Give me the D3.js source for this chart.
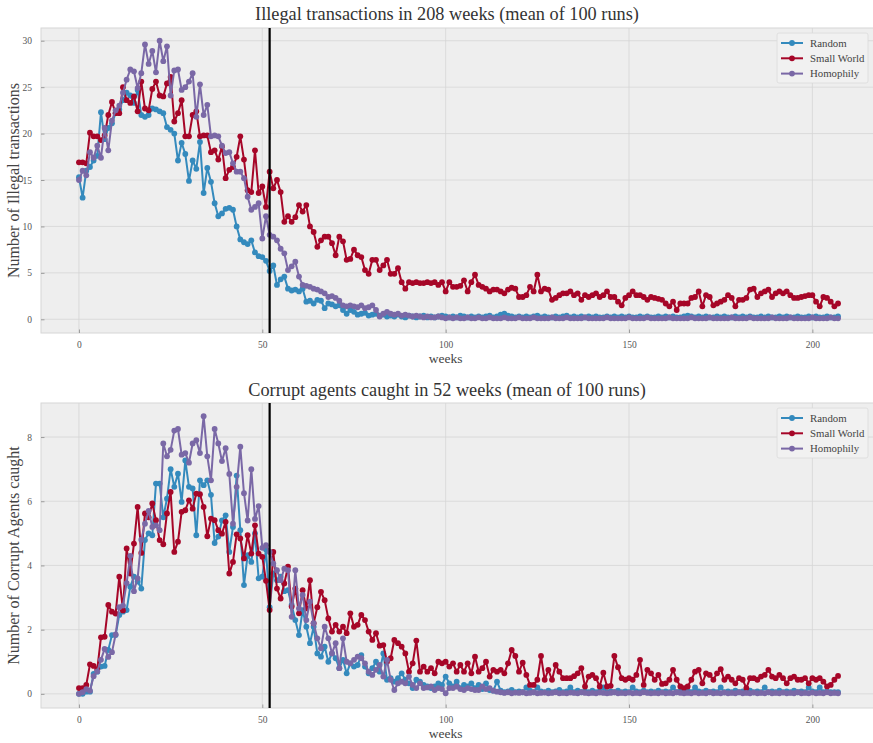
<!DOCTYPE html>
<html>
<head>
<meta charset="utf-8">
<script src="https://cdn.jsdelivr.net/npm/d3@7"></script>
<style>
  html, body { margin: 0; padding: 0; background: #ffffff; }
  svg { display: block; font-family: "Liberation Serif", "DejaVu Serif", serif; }
</style>
</head>
<body>
<svg id="chart" width="873" height="743"></svg>
<script>
// ---- data -------------------------------------------------------------
const weeks = d3.range(0, 208);
const seriesNames = ["Random", "Small World", "Homophily"];
const seriesColors = ["#348ABD", "#A60628", "#7A68A6"];
const xTicks = [0, 50, 100, 150, 200];
const topTicks = [0, 5, 10, 15, 20, 25, 30];
const bottomTicks = [0, 2, 4, 6, 8];
const markerWeek = 52;

const illegalRandom = [
  15.3, 13.1, 16.0, 16.4, 17.1, 17.6, 22.3, 19.4, 20.6, 21.1,
  22.2, 22.6, 23.6, 24.4, 24.1, 23.3, 24.7, 22.0, 21.8, 22.0,
  22.7, 22.6, 22.4, 22.2, 20.7, 20.4, 20.0, 17.1, 19.0, 17.8,
  14.9, 17.1, 16.2, 19.1, 13.6, 16.3, 14.8, 12.5, 11.1, 11.4,
  11.9, 12.0, 11.8, 10.0, 8.6, 8.3, 8.1, 8.5, 7.2, 6.8,
  6.7, 6.3, 5.2, 5.8, 3.7, 4.3, 4.6, 3.3, 3.1, 3.2,
  3.0, 3.3, 1.9, 2.0, 1.7, 2.1, 2.0, 1.2, 1.7, 1.6,
  1.4, 1.5, 1.0, 0.6, 1.0, 0.8, 0.5, 0.6, 0.7, 0.4,
  0.5, 0.6, 0.4, 0.5, 0.3, 0.4, 0.3, 0.5, 0.3, 0.2,
  0.4, 0.3, 0.2, 0.3, 0.4, 0.2, 0.3, 0.2, 0.3, 0.4,
  0.3, 0.2, 0.3, 0.2, 0.4, 0.3, 0.2, 0.3, 0.2, 0.3,
  0.2, 0.3, 0.4, 0.2, 0.3, 0.5, 0.6, 0.4, 0.3, 0.2,
  0.3, 0.2, 0.3, 0.2, 0.3, 0.4, 0.2, 0.3, 0.2, 0.2,
  0.3, 0.2, 0.3, 0.4, 0.2, 0.3, 0.2, 0.3, 0.2, 0.3,
  0.2, 0.3, 0.2, 0.2, 0.3, 0.2, 0.3, 0.2, 0.3, 0.2,
  0.3, 0.2, 0.2, 0.3, 0.2, 0.3, 0.2, 0.2, 0.3, 0.2,
  0.3, 0.2, 0.3, 0.2, 0.2, 0.3, 0.4, 0.3, 0.2, 0.3,
  0.2, 0.3, 0.2, 0.2, 0.3, 0.2, 0.3, 0.2, 0.2, 0.3,
  0.2, 0.3, 0.2, 0.3, 0.2, 0.2, 0.3, 0.2, 0.3, 0.2,
  0.2, 0.3, 0.2, 0.3, 0.2, 0.2, 0.3, 0.2, 0.2, 0.3,
  0.2, 0.3, 0.2, 0.2, 0.3, 0.2, 0.2, 0.3
];
const illegalSmallWorld = [
  16.9, 16.9, 16.8, 20.1, 19.7, 19.7, 19.3, 19.8, 22.0, 23.4,
  22.2, 22.2, 25.0, 23.6, 23.3, 24.0, 22.4, 25.6, 22.7, 22.5,
  24.8, 25.6, 24.1, 24.0, 25.4, 26.1, 21.3, 22.2, 23.6, 19.7,
  19.7, 22.0, 22.4, 19.7, 19.8, 19.8, 18.0, 18.2, 17.2, 18.6,
  15.2, 16.1, 16.4, 17.5, 19.7, 17.2, 13.9, 13.7, 18.2, 13.6,
  14.3, 12.1, 15.9, 14.1, 15.0, 13.7, 10.5, 11.1, 10.5, 11.0,
  12.3, 11.6, 12.3, 10.0, 9.4, 7.8, 8.5, 8.9, 8.9, 8.2,
  6.9, 8.9, 8.4, 6.4, 6.5, 7.5, 6.9, 6.7, 5.3, 4.9,
  6.4, 6.4, 5.3, 5.8, 6.4, 4.9, 4.9, 5.5, 4.0, 3.3,
  4.0, 3.9, 4.0, 3.9, 3.9, 4.0, 3.9, 4.0, 3.7, 4.0,
  3.0, 4.0, 3.5, 3.5, 3.6, 4.2, 3.0, 4.0, 4.8, 3.7,
  3.5, 3.3, 3.0, 3.2, 3.2, 3.0, 2.8, 3.2, 3.4, 3.3,
  2.4, 2.4, 2.6, 3.5, 3.0, 4.8, 3.0, 3.3, 3.2, 2.1,
  2.3, 2.6, 2.8, 2.8, 3.0, 2.6, 2.8, 2.1, 2.6, 2.4,
  2.6, 2.8, 2.4, 2.6, 3.0, 2.4, 2.4, 1.9, 1.5, 2.3,
  2.6, 3.0, 2.6, 2.6, 2.4, 2.1, 2.4, 2.3, 2.2, 2.1,
  1.7, 1.4, 1.9, 1.0, 1.7, 1.7, 1.7, 2.3, 2.4, 3.0,
  1.4, 2.6, 2.4, 1.5, 1.7, 1.9, 2.1, 2.6, 2.3, 1.4,
  2.1, 2.1, 2.3, 3.2, 3.3, 2.4, 2.8, 3.0, 3.2, 2.4,
  2.8, 3.0, 2.8, 3.0, 2.6, 2.3, 2.3, 2.4, 2.5, 2.6,
  2.6, 1.9, 1.4, 2.4, 2.3, 1.9, 1.4, 1.7
];
const illegalHomophily = [
  15.0, 16.0, 15.5, 18.0, 17.4, 18.7, 17.4, 20.6, 18.2, 21.4,
  22.5, 23.0, 24.4, 25.8, 26.9, 26.7, 24.9, 26.5, 29.6, 27.5,
  28.9, 26.6, 30.0, 27.8, 29.4, 24.1, 26.8, 26.9, 24.7, 25.0,
  25.6, 26.5, 21.8, 25.3, 22.0, 23.1, 19.7, 19.8, 19.7, 18.7,
  17.9, 18.0, 16.8, 15.9, 15.9, 15.2, 13.2, 11.8, 12.1, 12.5,
  8.7, 11.1, 9.1, 8.9, 8.5, 7.6, 7.1, 5.3, 5.7, 6.2,
  4.6, 3.7, 3.6, 3.5, 3.3, 3.2, 3.0, 2.8, 2.4, 2.5,
  2.3, 2.0, 1.5, 1.4, 1.5, 1.4, 1.3, 1.5, 1.2, 1.3,
  1.5, 1.0, 0.3, 0.6, 0.8, 0.6, 0.5, 0.6, 0.4, 0.5,
  0.4, 0.3, 0.4, 0.3, 0.2, 0.3, 0.2, 0.2, 0.3, 0.2,
  0.1, 0.2, 0.1, 0.2, 0.1, 0.1, 0.2, 0.1, 0.1, 0.2,
  0.1, 0.1, 0.2, 0.1, 0.1, 0.1, 0.2, 0.1, 0.1, 0.1,
  0.2, 0.1, 0.1, 0.1, 0.2, 0.1, 0.1, 0.1, 0.1, 0.2,
  0.1, 0.1, 0.1, 0.2, 0.1, 0.1, 0.1, 0.1, 0.2, 0.1,
  0.1, 0.1, 0.1, 0.1, 0.2, 0.1, 0.1, 0.1, 0.1, 0.1,
  0.2, 0.1, 0.1, 0.1, 0.1, 0.2, 0.1, 0.1, 0.1, 0.1,
  0.1, 0.2, 0.1, 0.1, 0.1, 0.1, 0.1, 0.2, 0.1, 0.1,
  0.1, 0.1, 0.2, 0.1, 0.1, 0.1, 0.1, 0.1, 0.2, 0.1,
  0.1, 0.1, 0.1, 0.2, 0.1, 0.1, 0.1, 0.1, 0.1, 0.2,
  0.1, 0.1, 0.1, 0.1, 0.2, 0.1, 0.1, 0.1, 0.1, 0.1,
  0.2, 0.1, 0.1, 0.1, 0.1, 0.2, 0.1, 0.1
];

const caughtRandom = [
  0.0, 0.0, 0.07, 0.07, 0.62, 0.69, 0.85, 0.87, 1.37, 1.83,
  1.83, 2.46, 2.56, 2.61, 3.34, 3.65, 3.5, 3.28, 4.79, 5.0,
  4.94, 6.55, 6.55, 5.5, 6.08, 7.0, 6.45, 6.86, 5.98, 7.27,
  6.45, 6.4, 4.94, 6.65, 6.5, 6.65, 6.2, 4.7, 4.9, 5.4,
  5.56, 4.42, 5.2, 6.8, 5.1, 3.39, 4.32, 4.11, 5.0, 3.6,
  3.65, 4.5, 2.7, 3.75, 3.54, 3.65, 3.2, 3.23, 2.77, 2.3,
  1.83, 2.61, 2.09, 1.58, 2.09, 1.26, 1.16, 1.47, 1.0, 1.26,
  1.11, 0.8, 1.06, 0.64, 0.95, 0.85, 0.9, 1.21, 0.85, 0.64,
  0.8, 1.0, 0.69, 1.26, 0.44, 0.49, 0.38, 0.49, 0.64, 0.44,
  0.33, 0.18, 0.44, 0.38, 0.28, 0.23, 0.18, 0.23, 0.33, 0.28,
  0.54, 0.33, 0.23, 0.38, 0.18, 0.28, 0.23, 0.33, 0.18, 0.28,
  0.15, 0.33, 0.12, 0.1, 0.38, 0.1, 0.05, 0.08, 0.12, 0.05,
  0.08, 0.05, 0.2, 0.1, 0.05, 0.2, 0.08, 0.05, 0.1, 0.05,
  0.08, 0.12, 0.05, 0.08, 0.2, 0.05, 0.1, 0.05, 0.08, 0.05,
  0.1, 0.05, 0.08, 0.2, 0.05, 0.08, 0.05, 0.1, 0.05, 0.08,
  0.05, 0.2, 0.08, 0.05, 0.1, 0.05, 0.08, 0.05, 0.1, 0.05,
  0.08, 0.05, 0.2, 0.05, 0.08, 0.05, 0.1, 0.05, 0.2, 0.08,
  0.05, 0.1, 0.05, 0.08, 0.05, 0.2, 0.05, 0.08, 0.05, 0.1,
  0.05, 0.08, 0.05, 0.1, 0.05, 0.08, 0.05, 0.2, 0.05, 0.08,
  0.05, 0.1, 0.05, 0.08, 0.05, 0.1, 0.05, 0.08, 0.05, 0.2,
  0.08, 0.05, 0.2, 0.05, 0.08, 0.05, 0.05, 0.05
];
const caughtSmallWorld = [
  0.18, 0.18, 0.28, 0.92, 0.87, 0.77, 1.76, 1.78, 2.77, 2.56,
  2.5, 3.65, 2.6, 4.53, 3.75, 4.68, 5.82, 4.39, 5.62, 5.5,
  5.93, 5.41, 4.79, 4.66, 5.62, 6.29, 4.42, 4.74, 5.67, 5.72,
  6.03, 5.77, 6.24, 6.22, 5.82, 4.91, 5.46, 5.41, 5.1, 4.99,
  5.36, 3.75, 4.11, 4.97, 4.84, 4.22, 4.94, 4.37, 5.25, 4.37,
  4.27, 3.52, 2.61, 4.42, 3.28, 2.97, 3.44, 3.96, 2.72, 3.28,
  2.51, 3.23, 2.66, 3.54, 2.2, 2.7, 3.18, 2.92, 2.35, 1.94,
  2.15, 1.94, 2.09, 1.89, 2.51, 2.09, 2.15, 2.46, 2.3, 1.94,
  1.68, 1.89, 1.5, 1.52, 1.0, 1.11, 1.68, 1.58, 1.47, 1.26,
  0.69, 0.95, 1.66, 0.69, 0.85, 0.69, 0.8, 0.64, 1.0, 0.95,
  1.0, 0.85, 0.95, 0.69, 0.9, 0.69, 0.95, 0.64, 1.16, 0.69,
  0.8, 1.0, 0.54, 0.75, 0.69, 0.75, 0.64, 0.95, 1.37, 1.18,
  0.69, 0.97, 0.59, 0.28, 0.28, 0.44, 1.18, 0.44, 0.75, 0.44,
  0.9, 0.69, 0.49, 0.49, 0.49, 0.55, 0.64, 0.8, 0.23, 0.54,
  0.59, 0.49, 0.23, 0.66, 0.23, 0.25, 1.18, 0.83, 0.49, 0.44,
  0.49, 0.44, 0.59, 1.06, 0.28, 0.75, 0.64, 0.44, 0.59, 0.31,
  0.33, 0.44, 0.75, 0.44, 0.23, 0.18, 0.23, 0.44, 0.69, 0.75,
  0.33, 0.64, 0.59, 0.44, 0.64, 0.77, 0.44, 0.54, 0.44, 0.33,
  0.49, 0.44, 0.18, 0.49, 0.49, 0.44, 0.54, 0.59, 0.75, 0.54,
  0.49, 0.59, 0.49, 0.33, 0.49, 0.54, 0.44, 0.44, 0.49, 0.33,
  0.49, 0.44, 0.49, 0.38, 0.23, 0.28, 0.44, 0.56
];
const caughtHomophily = [
  0.0, 0.05, 0.15, 0.1, 0.55, 0.7, 1.06, 1.4, 1.15, 1.3,
  1.85, 2.7, 2.75, 3.45, 4.3, 3.2, 3.6, 4.8, 5.3, 5.7,
  5.2, 5.25, 5.1, 7.8, 7.4, 7.6, 8.2, 8.25, 7.45, 7.5,
  7.2, 7.8, 7.9, 7.5, 8.65, 7.4, 6.65, 8.25, 7.8, 7.25,
  7.65, 6.85, 5.3, 6.45, 7.7, 6.25, 5.4, 7.0, 5.45, 5.85,
  4.55, 4.63, 4.42, 4.06, 3.85, 3.54, 3.9, 3.85, 2.4, 3.85,
  2.66, 3.08, 2.3, 2.87, 2.2, 1.73, 1.42, 2.09, 1.73, 1.26,
  1.58, 0.8, 1.73, 1.0, 0.95, 1.06, 1.16, 1.11, 0.95, 0.69,
  0.59, 0.75, 0.9, 0.54, 1.06, 0.44, 0.12, 0.33, 0.38, 0.33,
  0.54, 0.28, 0.18, 0.33, 0.18, 0.2, 0.23, 0.12, 0.18, 0.15,
  0.02, 0.18, 0.18, 0.23, 0.15, 0.12, 0.18, 0.15, 0.12, 0.12,
  0.23, 0.15, 0.18, 0.1, 0.07, 0.05, 0.03, 0.05, 0.02, 0.04,
  0.03, 0.05, 0.02, 0.03, 0.05, 0.02, 0.03, 0.04, 0.02, 0.03,
  0.05, 0.02, 0.03, 0.02, 0.04, 0.03, 0.02, 0.05, 0.03, 0.02,
  0.03, 0.02, 0.04, 0.03, 0.02, 0.03, 0.05, 0.02, 0.03, 0.02,
  0.04, 0.02, 0.03, 0.02, 0.05, 0.03, 0.02, 0.03, 0.02, 0.04,
  0.02, 0.03, 0.02, 0.05, 0.03, 0.02, 0.03, 0.02, 0.04, 0.02,
  0.03, 0.02, 0.05, 0.02, 0.03, 0.02, 0.04, 0.02, 0.03, 0.02,
  0.05, 0.02, 0.03, 0.02, 0.04, 0.02, 0.03, 0.02, 0.05, 0.02,
  0.03, 0.02, 0.04, 0.02, 0.03, 0.02, 0.05, 0.02, 0.03, 0.02,
  0.04, 0.02, 0.03, 0.02, 0.05, 0.02, 0.03, 0.02
];

// ---- layout -----------------------------------------------------------
const svg = d3.select("#chart");
const plotLeft = 41, plotRight = 876;
const x = d3.scaleLinear().domain([-10.35, 217.35]).range([plotLeft, plotRight]);

const panels = [
  {
    id: "illegal",
    title: "Illegal transactions in 208 weeks (mean of 100 runs)",
    ylabel: "Number of Illegal transactions",
    series: [illegalRandom, illegalSmallWorld, illegalHomophily],
    yTicks: topTicks,
    yDomain: [-1.475, 31.37],
    top: 28, bottom: 333, titleY: 20
  },
  {
    id: "caught",
    title: "Corrupt agents caught in 52 weeks (mean of 100 runs)",
    ylabel: "Number of Corrupt Agents caught",
    series: [caughtRandom, caughtSmallWorld, caughtHomophily],
    yTicks: bottomTicks,
    yDomain: [-0.44, 9.06],
    top: 403, bottom: 708, titleY: 396
  }
];

panels.forEach(p => {
  const y = d3.scaleLinear().domain(p.yDomain).range([p.bottom, p.top]);
  const g = svg.append("g");

  // axes background
  g.append("rect")
    .attr("x", plotLeft).attr("y", p.top)
    .attr("width", plotRight - plotLeft).attr("height", p.bottom - p.top)
    .attr("fill", "#eeeeee").attr("stroke", "#d6d6d6").attr("stroke-width", 1);

  // grid
  g.append("g").selectAll("line").data(xTicks).join("line")
    .attr("x1", d => x(d)).attr("x2", d => x(d))
    .attr("y1", p.top).attr("y2", p.bottom)
    .attr("stroke", "#d6d6d6").attr("stroke-width", 0.8);
  g.append("g").selectAll("line").data(p.yTicks).join("line")
    .attr("x1", plotLeft).attr("x2", plotRight)
    .attr("y1", d => y(d)).attr("y2", d => y(d))
    .attr("stroke", "#d6d6d6").attr("stroke-width", 0.8);

  // tick marks (inward) and labels
  const xAxis = d3.axisBottom(x).tickValues(xTicks).tickSize(-3.5).tickPadding(8);
  const ax = g.append("g").attr("transform", `translate(0,${p.bottom})`).call(xAxis);
  const yAxis = d3.axisLeft(y).tickValues(p.yTicks).tickSize(-3.5).tickPadding(9);
  const ay = g.append("g").attr("transform", `translate(${plotLeft},0)`).call(yAxis);
  [ax, ay].forEach(a => {
    a.select(".domain").remove();
    a.selectAll(".tick line").attr("stroke", "#8a8a8a").attr("stroke-width", 0.8);
    a.selectAll(".tick text").attr("fill", "#555555").attr("font-size", 9.5)
      .attr("font-family", "Liberation Serif, serif");
  });

  // series
  const clipId = "clip-" + p.id;
  svg.append("clipPath").attr("id", clipId).append("rect")
    .attr("x", plotLeft).attr("y", p.top)
    .attr("width", plotRight - plotLeft).attr("height", p.bottom - p.top);
  const plot = g.append("g").attr("clip-path", `url(#${clipId})`);
  const line = d3.line().x((d, i) => x(weeks[i])).y(d => y(d));

  p.series.forEach((vals, si) => {
    const sg = plot.append("g");
    sg.append("path").datum(vals)
      .attr("d", line).attr("fill", "none")
      .attr("stroke", seriesColors[si]).attr("stroke-width", 2)
      .attr("stroke-linejoin", "round");
    sg.selectAll("circle").data(vals).join("circle")
      .attr("cx", (d, i) => x(weeks[i])).attr("cy", d => y(d))
      .attr("r", 2.9).attr("fill", seriesColors[si]);
  });

  // vertical marker at week 52
  plot.append("line")
    .attr("x1", x(markerWeek)).attr("x2", x(markerWeek))
    .attr("y1", p.top).attr("y2", p.bottom)
    .attr("stroke", "#000").attr("stroke-width", 2.2);

  // title and axis labels
  svg.append("text").attr("x", 447).attr("y", p.titleY)
    .attr("text-anchor", "middle").attr("font-size", 18.3).attr("fill", "#333")
    .text(p.title);
  svg.append("text").attr("x", x(100)).attr("y", p.bottom + 30)
    .attr("text-anchor", "middle").attr("font-size", 13.5).attr("fill", "#444")
    .text("weeks");
  svg.append("text")
    .attr("transform", `translate(19,${(p.top + p.bottom) / 2}) rotate(-90)`)
    .attr("text-anchor", "middle").attr("font-size", 16).attr("fill", "#444")
    .text(p.ylabel);

  // legend
  const lg = svg.append("g").attr("transform", `translate(777,${p.top + 5})`);
  lg.append("rect").attr("width", 91).attr("height", 50).attr("rx", 2)
    .attr("fill", "#f1f1f1").attr("stroke", "#dadada").attr("stroke-width", 0.8);
  seriesNames.forEach((name, si) => {
    const yy = 10 + si * 15.3;
    lg.append("line").attr("x1", 4).attr("x2", 26).attr("y1", yy).attr("y2", yy)
      .attr("stroke", seriesColors[si]).attr("stroke-width", 2);
    lg.append("circle").attr("cx", 15).attr("cy", yy).attr("r", 2.9).attr("fill", seriesColors[si]);
    lg.append("text").attr("x", 33).attr("y", yy + 3.5).attr("font-size", 10.8)
      .attr("fill", "#444").text(name);
  });
});
</script>
</body>
</html>
